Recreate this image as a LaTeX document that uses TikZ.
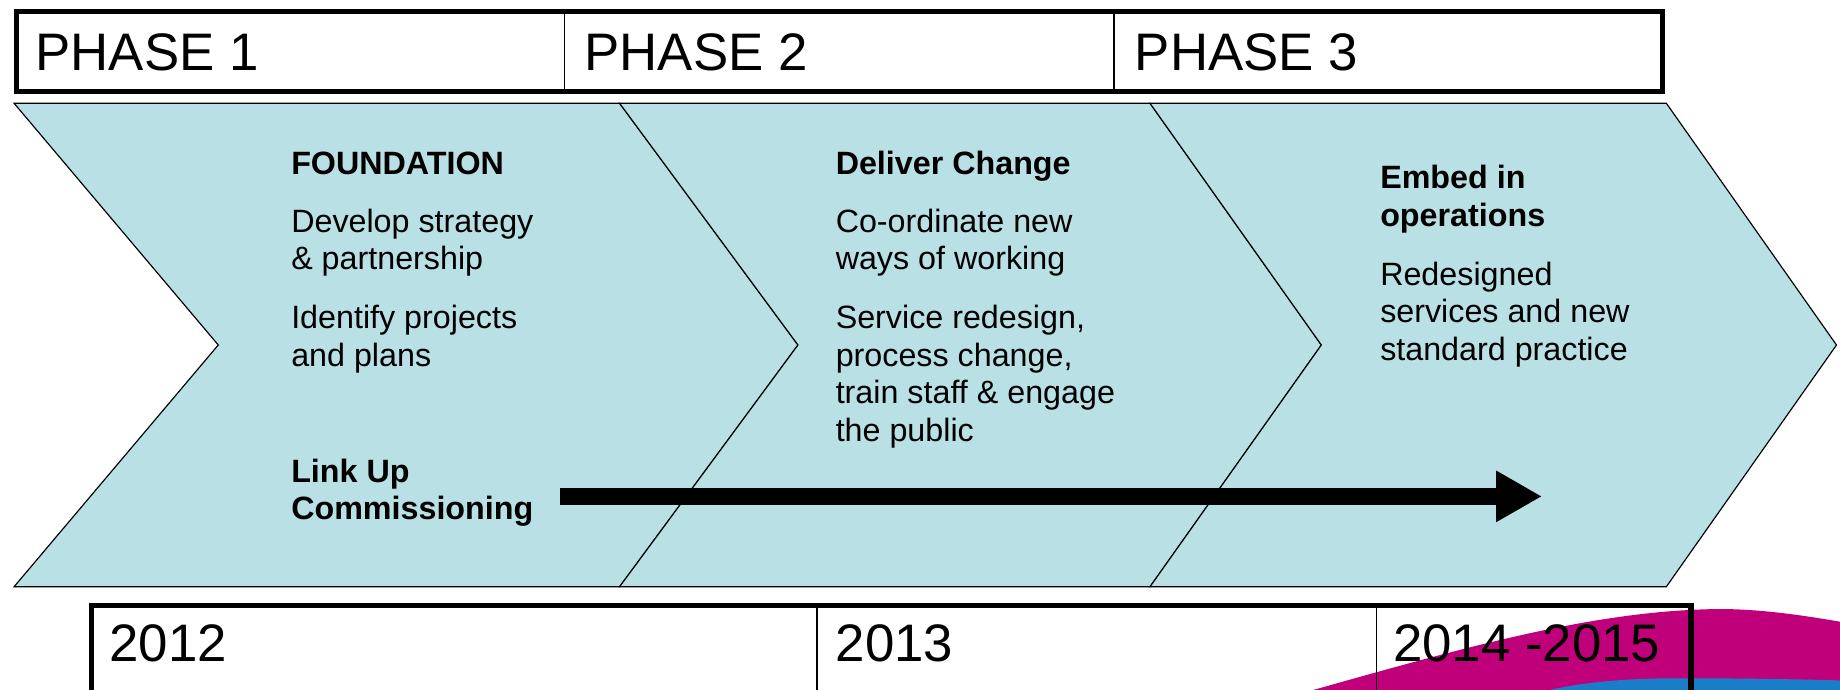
\documentclass[tikz,border=0pt]{standalone}
\usepackage{fontspec}
\setmainfont{Liberation Sans}
\usetikzlibrary{arrows.meta}
\definecolor{chev}{RGB}{185,224,228}
\definecolor{swmag}{RGB}{192,0,122}
\definecolor{swblue}{RGB}{25,125,200}
\begin{document}
\begin{tikzpicture}[x=1pt,y=-1pt,
  body/.style={anchor=base west, inner sep=0pt, font=\fontsize{27.5}{32}\selectfont},
  head/.style={anchor=base west, inner sep=0pt, font=\fontsize{27.5}{32}\selectfont\bfseries},
  big/.style={anchor=base west, inner sep=0pt, font=\fontsize{45}{54}\selectfont},
  chevron/.style={fill=chev, draw=black, line width=1pt, line join=miter},
  thickbox/.style={draw=black, line width=4.5pt},
  divider/.style={draw=black, line width=1.5pt},
  bigarrow/.style={draw=black, line width=14pt, -{Triangle[length=39pt,width=41pt]}}
]
\useasboundingbox (0,0) rectangle (1568,588);
\clip (0,0) rectangle (1568,588);
\fill[white] (0,0) rectangle (1568,588);

% swoosh (logo fragment)
\fill[swmag] (1112,590) .. controls (1250,551) and (1360,520) .. (1465,519)
  .. controls (1500,519) and (1535,524) .. (1575,531) -- (1575,600) -- (1105,600) -- cycle;
\fill[swblue] (1305,592) .. controls (1340,582) and (1380,578) .. (1430,578)
  .. controls (1490,578) and (1540,579) .. (1575,580) -- (1575,600) -- (1300,600) -- cycle;

% phase bar
\draw[thickbox] (14,10) rectangle (1417,78);
\draw[divider] (481,10) -- (481,78);
\draw[divider] (949,10) -- (949,78);
\node[big] (p1) at (30,60) {PHASE 1};
\node[big] (p2) at (498,60) {PHASE 2};
\node[big] (p3) at (967,60) {PHASE 3};

% chevrons
\path[chevron] (12,88) -- (528,88) -- (680,294) -- (528,500) -- (12,500) -- (186,294) -- cycle;
\path[chevron] (528,88) -- (980,88) -- (1126,294) -- (980,500) -- (528,500) -- (680,294) -- cycle;
\path[chevron] (980,88) -- (1420,88) -- (1565,294) -- (1420,500) -- (980,500) -- (1126,294) -- cycle;

% chevron 1 text
\node[head] (a1) at (248,149) {FOUNDATION};
\node[body] (a2) at (248,198) {Develop strategy};
\node[body] (a3) at (248,230) {\& partnership};
\node[body] (a4) at (248,280) {Identify projects};
\node[body] (a5) at (248,312) {and plans};
\node[head] (a6) at (248,411) {Link Up};
\node[head] (a7) at (248,443) {Commissioning};

% chevron 2 text
\node[head] (b1) at (712,149) {Deliver Change};
\node[body] (b2) at (712,198) {Co-ordinate new};
\node[body] (b3) at (712,230) {ways of working};
\node[body] (b4) at (712,280) {Service redesign,};
\node[body] (b5) at (712,312) {process change,};
\node[body] (b6) at (712,344) {train staff \& engage};
\node[body] (b7) at (712,376) {the public};

% chevron 3 text
\node[head] (c1) at (1176,161) {Embed in};
\node[head] (c2) at (1176,193) {operations};
\node[body] (c3) at (1176,243) {Redesigned};
\node[body] (c4) at (1176,275) {services and new};
\node[body] (c5) at (1176,307) {standard practice};

% arrow
\coordinate (arrS) at (477,423);
\coordinate (arrE) at (1314,423);
\draw[bigarrow] (arrS) -- (arrE);

% year bar
\draw[thickbox] (78,516) rectangle (1441,640);
\draw[divider] (696,516) -- (696,640);
\draw[divider] (1173,516) -- (1173,640);
\node[big] (y1) at (93,564) {2012};
\node[big] (y2) at (712,564) {2013};
\node[big] (y3) at (1187,564) {2014 -2015};
\end{tikzpicture}
\end{document}
